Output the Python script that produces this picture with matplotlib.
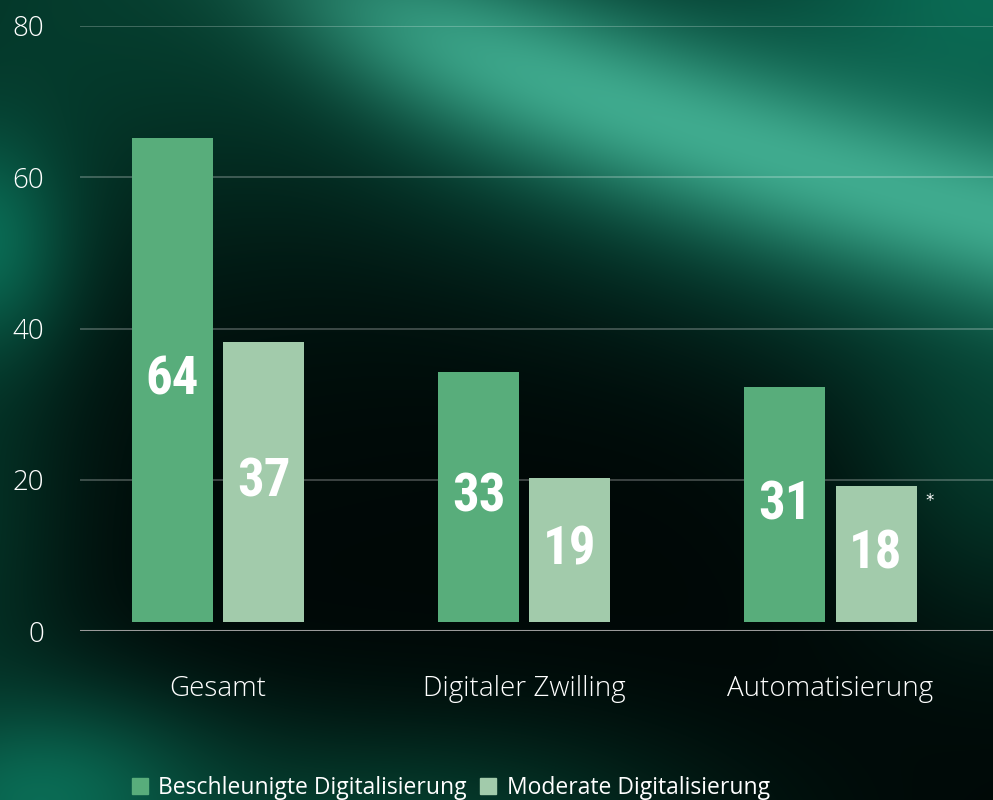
import matplotlib
matplotlib.use('Agg')
import matplotlib.pyplot as plt
from matplotlib.patches import Patch
from matplotlib import font_manager
import numpy as np

# data
categories = ['Gesamt', 'Digitaler Zwilling', 'Automatisierung']
series_names = ['Beschleunigte Digitalisierung', 'Moderate Digitalisierung']
beschleunigt = [64, 33, 31]
moderat = [37, 19, 18]
yticks = [0, 20, 40, 60, 80]

col_dark = '#58ad7b'
col_light = '#a2cbab'

W, H = 993, 800
fig = plt.figure(figsize=(W / 100, H / 100), dpi=100)

# background: dark canvas with soft green glows
yy, xx = np.mgrid[0:H, 0:W].astype(float)


def blob(cx, cy, sx, sy):
    return np.exp(-((xx - cx) / sx) ** 2 - ((yy - cy) / sy) ** 2)


img = np.zeros((H, W, 3))
img[:] = (0.0, 0.03, 0.025)
DG = np.array([0.02, 0.24, 0.18])
MG = np.array([0.04, 0.42, 0.33])
TL = np.array([0.25, 0.67, 0.56])

yc = 20 + 0.38 * (xx - 380) - 0.0001 * (xx - 380) ** 2
fade = 1 / (1 + np.exp(-(xx - 330) / 70))
halo = np.exp(-((yy - yc) / 190) ** 2) * fade * 0.75
band = np.exp(-((yy - yc) / 85) ** 2) * fade

layers = [
    (blob(100, 0, 380, 280) * 0.95, DG),
    (blob(-50, 520, 130, 260) * 0.8, DG),
    (blob(400, 830, 300, 110), DG),
    (blob(1010, 450, 160, 180) * 0.8, DG),
    (halo, MG),
    (blob(-20, 240, 90, 120), MG),
    (blob(40, 800, 180, 110), MG),
    (blob(993, -10, 260, 200), MG),
    (band, TL),
]
for f, c in layers:
    f = np.clip(f, 0, 1)[..., None]
    img = img * (1 - f) + c * f

bg = fig.add_axes([0, 0, 1, 1], zorder=0)
bg.imshow(img, aspect='auto', extent=(0, 1, 0, 1), interpolation='bilinear')
bg.axis('off')


# pick the narrowest bold face available for the value labels
def weight_of(fe):
    if isinstance(fe.weight, int):
        return fe.weight
    return 700 if 'bold' in str(fe.weight).lower() else 400


narrow = None
rank = ['Liberation Sans Narrow', 'Roboto Condensed', 'Open Sans Condensed', 'Condensed']
best = len(rank)
for fe in font_manager.fontManager.ttflist:
    if weight_of(fe) < 600 or 'oblique' in fe.style or 'italic' in fe.style:
        continue
    label = fe.name + ' ' + str(fe.stretch)
    for i, key in enumerate(rank):
        if key.lower() in label.lower() and i < best:
            best, narrow = i, fe

# main chart
ax = fig.add_axes([80 / W, 1 - 631 / H, 1 - 80 / W, (631 - 26) / H], zorder=1)
ax.set_facecolor('none')

x = np.arange(len(categories))
bw = 0.2645
off = 0.1486
base = 1.2  # bars float slightly above the baseline

b1 = ax.bar(x - off, beschleunigt, bw, bottom=base, color=col_dark, zorder=3)
b2 = ax.bar(x + off, moderat, bw, bottom=base, color=col_light, zorder=3)

if narrow is not None:
    size = 40 if best == 0 else 38
    num_font = dict(fontproperties=font_manager.FontProperties(fname=narrow.fname, size=size))
else:
    num_font = dict(fontsize=33, fontweight='bold', family='DejaVu Sans')
for bars, vals in [(b1, beschleunigt), (b2, moderat)]:
    for r, v in zip(bars, vals):
        ax.text(r.get_x() + r.get_width() / 2, base + v / 2, str(v), color='white',
                ha='center', va='center', zorder=4, **num_font)

# footnote marker next to the last bar
last = b2[-1]
ax.annotate('*', xy=(last.get_x() + last.get_width(), base + moderat[-1]),
            xytext=(9, -6), textcoords='offset pixels', color='white',
            fontsize=12, ha='left', va='top', zorder=4)

ax.set_xlim(-0.4506, 2.5306)
ax.set_ylim(0, 80)
ax.set_yticks(yticks)
ax.set_xticks(x)
ax.set_xticklabels(categories)
ax.yaxis.grid(True, color='white', alpha=0.28, lw=1.2, zorder=1)
ax.axhline(0, color='#9a9a9a', lw=2.2, zorder=2)
for s in ax.spines.values():
    s.set_visible(False)
ax.tick_params(axis='y', length=0, pad=26, labelsize=20, labelcolor='white')
ax.tick_params(axis='x', length=0, pad=32, labelsize=20, labelcolor='white')
for lab in ax.get_xticklabels() + ax.get_yticklabels():
    lab.set_family(['Open Sans', 'DejaVu Sans'])
    lab.set_fontweight('light')

handles = [Patch(color=col_dark, label=series_names[0]),
           Patch(color=col_light, label=series_names[1])]
fig.legend(handles=handles, loc='lower left', bbox_to_anchor=(111 / W, -0.026),
           ncol=2, frameon=False, labelcolor='white',
           handlelength=0.7, handleheight=0.7, handletextpad=0.45,
           columnspacing=0.6, prop={'family': ['Open Sans', 'DejaVu Sans'], 'size': 16.5})

fig.savefig('out.png', dpi=100)
